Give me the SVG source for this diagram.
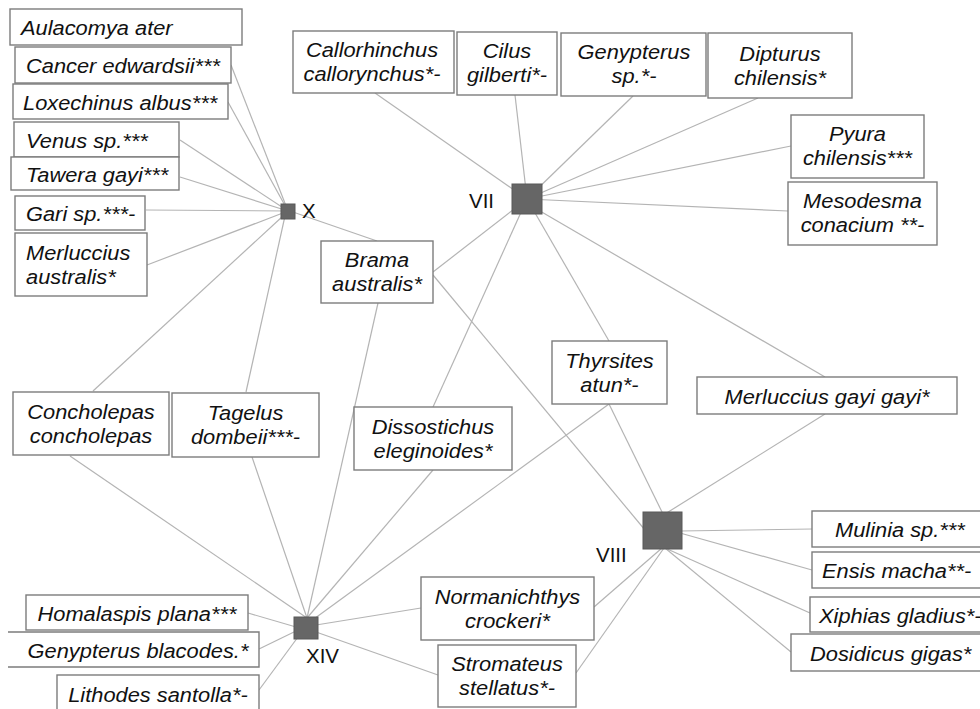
<svg xmlns="http://www.w3.org/2000/svg" width="980" height="709" viewBox="0 0 980 709">
<style>
.bg{fill:#ffffff}
.c line{stroke:#b4b4b4;stroke-width:1.2;fill:none}
.b{fill:#ffffff;stroke:#7c7c7c;stroke-width:1.4}
.n{fill:#666666;stroke:#595959;stroke-width:1}
.t{font-family:"Liberation Sans",Arial,sans-serif;font-style:italic;font-size:19.5px;fill:#111111}
.m{text-anchor:middle}
.s{text-anchor:start}
.l{font-family:"Liberation Sans",Arial,sans-serif;font-size:20.5px;fill:#111111}
</style>
<rect class="bg" x="0" y="0" width="980" height="709"/>
<g id="connectors" class="c">
<!-- X -->
<line x1="231" y1="65" x2="288" y2="211"/>
<line x1="228" y1="102" x2="288" y2="211"/>
<line x1="180" y1="140" x2="288" y2="211"/>
<line x1="180" y1="177" x2="288" y2="211"/>
<line x1="146" y1="210" x2="288" y2="211"/>
<line x1="147" y1="265" x2="288" y2="211"/>
<line x1="93" y1="391" x2="283" y2="216"/>
<line x1="246" y1="392" x2="285" y2="216"/>
<line x1="377" y1="241" x2="290" y2="211"/>
<!-- VII -->
<line x1="375" y1="93" x2="527" y2="199"/>
<line x1="515" y1="95" x2="527" y2="199"/>
<line x1="633" y1="96" x2="527" y2="199"/>
<line x1="758" y1="98" x2="527" y2="199"/>
<line x1="791" y1="146" x2="527" y2="199"/>
<line x1="788" y1="211" x2="527" y2="199"/>
<line x1="433" y1="272" x2="527" y2="199"/>
<line x1="433" y1="407" x2="527" y2="199"/>
<line x1="609" y1="341" x2="527" y2="199"/>
<line x1="825" y1="377" x2="540" y2="211"/>
<!-- VIII -->
<line x1="433" y1="275" x2="645" y2="530"/>
<line x1="609" y1="404" x2="663" y2="514"/>
<line x1="825" y1="414" x2="665" y2="514"/>
<line x1="812" y1="529" x2="680" y2="531"/>
<line x1="812" y1="570" x2="680" y2="533"/>
<line x1="810" y1="613" x2="665" y2="548"/>
<line x1="791" y1="652" x2="665" y2="548"/>
<line x1="594" y1="607" x2="662" y2="548"/>
<line x1="576" y1="673" x2="664" y2="548"/>
<!-- XIV -->
<line x1="70" y1="456" x2="307" y2="618"/>
<line x1="252" y1="457" x2="307" y2="618"/>
<line x1="378" y1="303" x2="307" y2="618"/>
<line x1="433" y1="470" x2="307" y2="618"/>
<line x1="609" y1="404" x2="307" y2="624"/>
<line x1="248" y1="613" x2="296" y2="627"/>
<line x1="259" y1="649" x2="296" y2="631"/>
<line x1="259" y1="690" x2="298" y2="637"/>
<line x1="421" y1="608" x2="316" y2="625"/>
<line x1="438" y1="675" x2="316" y2="632"/>
</g>

<g id="aulacomya"><rect class="b" x="10" y="9" width="232" height="36"/><text class="t s" transform="translate(21,35) scale(1.12,1)">Aulacomya ater</text></g>
<g id="cancer"><rect class="b" x="15" y="47" width="216" height="36"/><text class="t s" transform="translate(26,73) scale(1.12,1)">Cancer edwardsii***</text></g>
<g id="loxechinus"><rect class="b" x="13" y="84" width="215" height="35"/><text class="t s" transform="translate(23,109.5) scale(1.12,1)">Loxechinus albus***</text></g>
<g id="venus"><rect class="b" x="14" y="122" width="165" height="35"/><text class="t s" transform="translate(26,147.5) scale(1.12,1)">Venus sp.***</text></g>
<g id="tawera"><rect class="b" x="11" y="157" width="168" height="33"/><text class="t s" transform="translate(26,181.5) scale(1.12,1)">Tawera gayi***</text></g>
<g id="gari"><rect class="b" x="15" y="196" width="130" height="34"/><text class="t s" transform="translate(26,221) scale(1.12,1)">Gari sp.***-</text></g>
<g id="merluccius-australis"><rect class="b" x="15" y="233" width="132" height="63"/><text class="t s" transform="translate(26,260) scale(1.12,1)"><tspan x="0" y="0">Merluccius</tspan><tspan x="0" y="24.5">australis*</tspan></text></g>

<g id="callorhinchus"><rect class="b" x="293" y="31" width="161" height="62"/><text class="t m" transform="translate(372,57) scale(1.12,1)"><tspan x="0" y="0">Callorhinchus</tspan><tspan x="0" y="24.5">callorynchus*-</tspan></text></g>
<g id="cilus"><rect class="b" x="457" y="32" width="100" height="63"/><text class="t m" transform="translate(507,58) scale(1.12,1)"><tspan x="0" y="0">Cilus</tspan><tspan x="0" y="24.5">gilberti*-</tspan></text></g>
<g id="genypterus-sp"><rect class="b" x="561" y="33" width="145" height="63"/><text class="t m" transform="translate(634,59) scale(1.12,1)"><tspan x="0" y="0">Genypterus</tspan><tspan x="0" y="24.5">sp.*-</tspan></text></g>
<g id="dipturus"><rect class="b" x="708" y="33" width="144" height="65"/><text class="t m" transform="translate(780,60.5) scale(1.12,1)"><tspan x="0" y="0">Dipturus</tspan><tspan x="0" y="24.5">chilensis*</tspan></text></g>
<g id="pyura"><rect class="b" x="791" y="115" width="133" height="63"/><text class="t m" transform="translate(857.5,140.5) scale(1.12,1)"><tspan x="0" y="0">Pyura</tspan><tspan x="0" y="24.5">chilensis***</tspan></text></g>
<g id="mesodesma"><rect class="b" x="788" y="182" width="149" height="63"/><text class="t m" transform="translate(862.5,208) scale(1.12,1)"><tspan x="0" y="0">Mesodesma</tspan><tspan x="0" y="24.5">conacium **-</tspan></text></g>
<g id="brama"><rect class="b" x="321" y="241" width="112" height="62"/><text class="t m" transform="translate(377,267) scale(1.12,1)"><tspan x="0" y="0">Brama</tspan><tspan x="0" y="24.5">australis*</tspan></text></g>
<g id="concholepas"><rect class="b" x="13" y="392" width="156" height="63"/><text class="t m" transform="translate(91,418.5) scale(1.12,1)"><tspan x="0" y="0">Concholepas</tspan><tspan x="0" y="24.5">concholepas</tspan></text></g>
<g id="tagelus"><rect class="b" x="172" y="393" width="147" height="64"/><text class="t m" transform="translate(245.5,420) scale(1.12,1)"><tspan x="0" y="0">Tagelus</tspan><tspan x="0" y="24.5">dombeii***-</tspan></text></g>
<g id="dissostichus"><rect class="b" x="354" y="407" width="158" height="63"/><text class="t m" transform="translate(433,433.5) scale(1.12,1)"><tspan x="0" y="0">Dissostichus</tspan><tspan x="0" y="24.5">eleginoides*</tspan></text></g>
<g id="thyrsites"><rect class="b" x="552" y="341" width="115" height="63"/><text class="t m" transform="translate(609.5,367.5) scale(1.12,1)"><tspan x="0" y="0">Thyrsites</tspan><tspan x="0" y="24.5">atun*-</tspan></text></g>
<g id="merluccius-gayi"><rect class="b" x="697" y="377" width="260" height="37"/><text class="t m" transform="translate(827,403.5) scale(1.12,1)">Merluccius gayi gayi*</text></g>
<g id="normanichthys"><rect class="b" x="421" y="577" width="173" height="63"/><text class="t m" transform="translate(507.5,603.5) scale(1.12,1)"><tspan x="0" y="0">Normanichthys</tspan><tspan x="0" y="24.5">crockeri*</tspan></text></g>
<g id="stromateus"><rect class="b" x="438" y="645" width="138" height="62"/><text class="t m" transform="translate(507,671) scale(1.12,1)"><tspan x="0" y="0">Stromateus</tspan><tspan x="0" y="24.5">stellatus*-</tspan></text></g>
<g id="homalaspis"><rect class="b" x="26" y="595" width="222" height="35"/><text class="t m" transform="translate(137,620.5) scale(1.12,1)">Homalaspis plana***</text></g>
<g id="genypterus-blacodes"><path class="b" d="M8,632 H259 V667 H8"/><text class="t m" transform="translate(138,657.5) scale(1.12,1)">Genypterus blacodes.*</text></g>
<g id="lithodes"><rect class="b" x="57" y="675" width="202" height="50"/><text class="t m" transform="translate(158,702) scale(1.12,1)">Lithodes santolla*-</text></g>
<g id="mulinia"><rect class="b" x="812" y="511" width="200" height="36"/><text class="t s" transform="translate(835,537) scale(1.12,1)">Mulinia sp.***</text></g>
<g id="ensis"><rect class="b" x="812" y="552" width="200" height="36"/><text class="t s" transform="translate(822,578) scale(1.12,1)">Ensis macha**-</text></g>
<g id="xiphias"><rect class="b" x="810" y="597" width="200" height="35"/><text class="t s" transform="translate(819,622.5) scale(1.12,1)">Xiphias gladius*-</text></g>
<g id="dosidicus"><rect class="b" x="791" y="634" width="220" height="37"/><text class="t s" transform="translate(810,660.5) scale(1.12,1)">Dosidicus gigas*</text></g>

<g id="node-X"><rect class="n" x="281" y="204" width="14" height="15"/><text class="l" x="302" y="218">X</text></g>
<g id="node-VII"><rect class="n" x="512" y="184" width="30" height="30"/><text class="l" x="469" y="208">VII</text></g>
<g id="node-VIII"><rect class="n" x="643" y="512" width="39" height="37"/><text class="l" x="596" y="562">VIII</text></g>
<g id="node-XIV"><rect class="n" x="294" y="617" width="24" height="22"/><text class="l" x="306" y="663">XIV</text></g>
</svg>
